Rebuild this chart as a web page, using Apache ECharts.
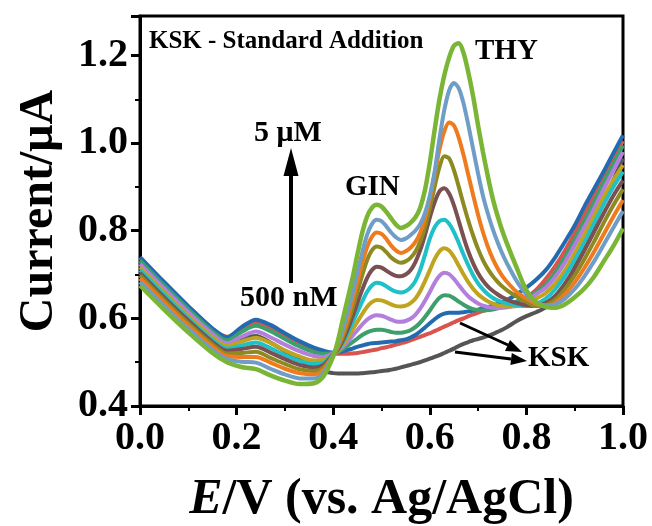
<!DOCTYPE html>
<html><head><meta charset="utf-8">
<script src="https://cdn.jsdelivr.net/npm/echarts@6/dist/echarts.min.js"></script>
<style>html,body{margin:0;padding:0;background:#fff}#c{width:652px;height:526px}</style>
</head><body><div id="c"></div>
<script>
// Potential grid (V vs. Ag/AgCl)
const potential = [0,0.05,0.10,0.15,0.18,0.21,0.24,0.27,0.30,0.33,0.36,0.38,
  0.40,0.41,0.42,0.43,0.44,0.45,0.46,0.47,0.48,0.49,0.50,0.51,0.52,0.53,
  0.54,0.55,0.56,0.57,0.58,0.59,0.60,0.61,0.62,0.63,0.64,0.65,0.66,0.67,0.68,0.69,0.70,0.71,0.72,0.73,0.74,0.75,0.76,
  0.78,0.80,
  0.82,0.84,0.86,0.88,0.90,0.92,0.94,0.96,0.98,1.00];

// Currents (uA)
const ksk = [0.728,0.672,0.617,0.567,0.546,0.555,0.560,0.545,0.525,0.505,0.487,0.479,
  0.475,0.474,0.474,0.474,0.474,0.474,0.475,0.476,0.477,0.478,0.480,0.481,0.483,0.485,
  0.488,0.491,0.494,0.497,0.500,0.504,0.508,0.512,0.516,0.521,0.526,0.531,0.537,0.542,0.546,0.550,0.553,0.556,0.560,0.564,0.569,0.574,0.580,
  0.594,0.605,
  0.614,0.625,0.645,0.675,0.715,0.765,0.815,0.865,0.915,0.965];
const add1 = [0.738,0.681,0.626,0.576,0.558,0.575,0.590,0.578,0.560,0.543,0.530,0.523,
  0.520,0.519,0.519,0.519,0.520,0.521,0.523,0.525,0.527,0.529,0.532,0.534,0.537,0.540,
  0.543,0.546,0.550,0.554,0.558,0.562,0.566,0.571,0.576,0.581,0.586,0.591,0.596,0.600,0.605,0.609,0.613,0.617,0.620,0.623,0.626,0.629,0.632,
  0.638,0.648,
  0.665,0.690,0.720,0.755,0.795,0.838,0.880,0.922,0.963,1.005];
const add2 = [0.740,0.683,0.628,0.577,0.557,0.580,0.597,0.585,0.566,0.548,0.533,0.526,
  0.522,0.523,0.525,0.528,0.531,0.535,0.538,0.541,0.543,0.544,0.545,0.546,0.547,0.548,
  0.550,0.552,0.556,0.562,0.570,0.579,0.589,0.598,0.606,0.611,0.613,0.613,0.613,0.614,0.616,0.618,0.620,0.623,0.626,0.629,0.633,0.637,0.642,
  0.655,0.670,
  0.688,0.710,0.740,0.775,0.812,0.855,0.895,0.935,0.977,1.018];
const add3 = [0.732,0.675,0.621,0.570,0.550,0.569,0.583,0.571,0.553,0.536,0.523,0.519,
  0.521,0.524,0.530,0.538,0.546,0.554,0.562,0.568,0.572,0.574,0.574,0.572,0.569,0.567,
  0.567,0.569,0.573,0.580,0.590,0.603,0.618,0.634,0.647,0.653,0.652,0.646,0.638,0.631,0.625,0.621,0.619,0.618,0.619,0.620,0.623,0.626,0.630,
  0.638,0.648,
  0.660,0.677,0.705,0.740,0.780,0.822,0.865,0.910,0.952,0.995];
const add4 = [0.724,0.668,0.614,0.564,0.543,0.558,0.570,0.557,0.540,0.525,0.514,0.512,
  0.520,0.525,0.535,0.547,0.560,0.573,0.586,0.597,0.604,0.607,0.606,0.602,0.597,0.593,
  0.592,0.594,0.599,0.608,0.622,0.640,0.660,0.681,0.697,0.704,0.701,0.690,0.676,0.662,0.650,0.641,0.634,0.629,0.626,0.624,0.623,0.624,0.625,
  0.630,0.640,
  0.655,0.670,0.695,0.728,0.767,0.808,0.850,0.895,0.937,0.980];
const add5 = [0.717,0.660,0.606,0.557,0.537,0.547,0.556,0.544,0.527,0.513,0.504,0.505,
  0.519,0.526,0.540,0.556,0.574,0.592,0.610,0.626,0.637,0.642,0.641,0.637,0.632,0.628,
  0.627,0.629,0.635,0.645,0.662,0.685,0.710,0.735,0.753,0.760,0.755,0.740,0.720,0.700,0.682,0.667,0.655,0.646,0.639,0.634,0.630,0.628,0.627,
  0.628,0.634,
  0.645,0.658,0.680,0.710,0.748,0.790,0.833,0.877,0.915,0.950];
const add6 = [0.710,0.654,0.600,0.551,0.531,0.538,0.545,0.532,0.516,0.503,0.496,0.499,
  0.519,0.528,0.545,0.566,0.590,0.614,0.638,0.660,0.675,0.681,0.679,0.673,0.666,0.661,
  0.659,0.662,0.670,0.685,0.710,0.745,0.782,0.808,0.822,0.825,0.816,0.797,0.772,0.745,0.720,0.698,0.680,0.666,0.655,0.647,0.641,0.637,0.634,
  0.630,0.628,
  0.633,0.645,0.667,0.697,0.733,0.773,0.817,0.860,0.900,0.935];
const add7 = [0.704,0.648,0.595,0.546,0.526,0.530,0.535,0.522,0.507,0.494,0.488,0.494,
  0.518,0.530,0.550,0.575,0.604,0.635,0.665,0.692,0.710,0.718,0.716,0.709,0.702,0.697,
  0.696,0.700,0.710,0.728,0.755,0.790,0.830,0.865,0.890,0.897,0.885,0.858,0.822,0.785,0.752,0.725,0.703,0.686,0.673,0.663,0.655,0.648,0.643,
  0.635,0.630,
  0.628,0.635,0.652,0.680,0.715,0.755,0.797,0.840,0.880,0.915];
const add8 = [0.698,0.642,0.589,0.541,0.520,0.521,0.524,0.510,0.496,0.484,0.480,0.488,
  0.517,0.533,0.557,0.588,0.622,0.660,0.698,0.732,0.755,0.764,0.761,0.751,0.739,0.731,
  0.727,0.730,0.738,0.752,0.775,0.808,0.852,0.900,0.945,0.970,0.965,0.938,0.900,0.860,0.822,0.788,0.758,0.733,0.713,0.697,0.684,0.673,0.664,
  0.650,0.638,
  0.628,0.630,0.643,0.667,0.698,0.735,0.775,0.818,0.858,0.895];
const add9 = [0.691,0.636,0.583,0.535,0.514,0.512,0.512,0.499,0.485,0.475,0.472,0.483,
  0.517,0.537,0.565,0.600,0.640,0.683,0.725,0.762,0.786,0.796,0.793,0.781,0.766,0.755,
  0.749,0.753,0.761,0.774,0.795,0.828,0.872,0.928,0.985,1.027,1.047,1.040,1.012,0.972,0.926,0.880,0.836,0.797,0.764,0.737,0.715,0.697,0.683,
  0.660,0.645,
  0.633,0.628,0.636,0.655,0.682,0.715,0.752,0.792,0.832,0.870];
const add10 = [0.683,0.628,0.576,0.528,0.507,0.501,0.499,0.485,0.472,0.463,0.463,0.476,
  0.516,0.540,0.575,0.615,0.658,0.705,0.750,0.790,0.815,0.825,0.822,0.810,0.796,0.785,
  0.779,0.782,0.790,0.800,0.815,0.840,0.880,0.935,1.010,1.075,1.120,1.137,1.125,1.090,1.040,0.985,0.930,0.880,0.840,0.805,0.775,0.748,0.725,
  0.685,0.655,
  0.637,0.630,0.632,0.645,0.667,0.696,0.730,0.768,0.807,0.845];
const add11 = [0.675,0.620,0.568,0.521,0.500,0.489,0.484,0.470,0.458,0.450,0.452,0.468,
  0.513,0.550,0.598,0.645,0.692,0.745,0.795,0.832,0.852,0.859,0.855,0.843,0.828,0.814,
  0.806,0.810,0.818,0.830,0.852,0.893,0.955,1.030,1.100,1.155,1.195,1.222,1.228,1.205,1.160,1.105,1.040,0.980,0.925,0.875,0.835,0.800,0.770,
  0.715,0.664,
  0.637,0.626,0.624,0.632,0.648,0.668,0.695,0.730,0.765,0.805];

const curves = [ksk, add1, add2, add3, add4, add5, add6, add7, add8, add9, add10, add11];
const curveNames = ['KSK','Add 1','Add 2','Add 3','Add 4','Add 5','Add 6','Add 7','Add 8','Add 9','Add 10','Add 11'];
const curveColors = ['#555555','#d9544f','#236bb0','#3d9f6b','#b27fdd','#c0a41e','#20c0c8','#7a5052','#8c8a20','#ee7b1d','#6e9dc8','#7bb535'];

const xTicks = [0.0,0.2,0.4,0.6,0.8,1.0];
const yTicks = [0.4,0.6,0.8,1.0,1.2];

const FONT = "'Liberation Serif','Times New Roman',serif";

const chart = echarts.init(document.getElementById('c'), null, {renderer:'canvas'});

const series = curves.map((vals, k) => ({
  name: curveNames[k],
  type: 'line',
  data: potential.map((e, i) => [e, vals[i]]),
  showSymbol: false,
  smooth: 0.3,
  lineStyle: {color: curveColors[k], width: k === 11 ? 4.5 : 4},
  itemStyle: {color: curveColors[k]},
  z: 2 + k,
  silent: true
}));

const labelStyle = {color:'#000', fontFamily: FONT, fontWeight:'bold', fontSize: 40};

chart.setOption({
  animation: false,
  backgroundColor: '#fff',
  grid: {left: 140, right: 29, top: 16, bottom: 120, show: true, borderColor: '#000', borderWidth: 3,
         containLabel: false, outerBoundsMode: 'none'},
  xAxis: {
    type: 'value', min: 0, max: 1.0, interval: 0.2,
    axisLine: {show: true, lineStyle: {color:'#000', width: 3}},
    axisTick: {show: true, inside: false, length: 9, lineStyle: {color:'#000', width: 3}},
    minorTick: {show: true, splitNumber: 2, length: 5, lineStyle: {color:'#000', width: 2}},
    splitLine: {show: false},
    axisLabel: Object.assign({margin: 13, formatter: v => {
      const t = xTicks.find(x => Math.abs(x - v) < 1e-6);
      return t === undefined ? '' : t.toFixed(1);
    }}, labelStyle),
    name: '{i|E}/V (vs. Ag/AgCl)',
    nameLocation: 'middle', nameGap: 69,
    nameTextStyle: {color:'#000', fontFamily: FONT, fontWeight:'bold', fontSize: 50,
      rich: {i: {fontStyle:'italic', fontWeight:'bold', fontFamily: FONT, fontSize: 50, color:'#000'}}}
  },
  yAxis: {
    type: 'value', min: 0.4, max: 1.29, interval: 0.2,
    axisLine: {show: true, lineStyle: {color:'#000', width: 3}},
    axisTick: {show: true, inside: false, length: 9, lineStyle: {color:'#000', width: 3}},
    minorTick: {show: true, splitNumber: 2, length: 5, lineStyle: {color:'#000', width: 2}},
    splitLine: {show: false},
    axisLabel: Object.assign({margin: 12, formatter: v => {
      const t = yTicks.find(y => Math.abs(y - v) < 1e-6);
      return t === undefined ? '' : t.toFixed(1);
    }}, labelStyle),
    name: 'Current/μA',
    nameLocation: 'middle', nameGap: 76,
    nameTextStyle: {color:'#000', fontFamily: FONT, fontWeight:'bold', fontSize: 48}
  },
  series: series,
  graphic: [
    {type:'text', left: 149, top: 29, z: 50, style:{text:'KSK - Standard Addition', font:`bold 25px ${FONT}`, fill:'#000'}},
    {type:'text', left: 475, top: 37, z: 50, style:{text:'THY', font:`bold 29px ${FONT}`, fill:'#000'}},
    {type:'text', left: 254, top: 118, z: 50, style:{text:'5 μM', font:`bold 30px ${FONT}`, fill:'#000'}},
    {type:'text', left: 345, top: 173, z: 50, style:{text:'GIN', font:`bold 29px ${FONT}`, fill:'#000'}},
    {type:'text', left: 240, top: 283, z: 50, style:{text:'500 nM', font:`bold 30px ${FONT}`, fill:'#000'}},
    {type:'text', left: 528, top: 344, z: 50, style:{text:'KSK', font:`bold 29px ${FONT}`, fill:'#000'}},
    {type:'line', z: 50, shape:{x1:291, y1:283, x2:291, y2:172}, style:{stroke:'#000', lineWidth:4}},
    {type:'polygon', z: 50, shape:{points:[[291,148],[283.5,176],[298.5,176]]}, style:{fill:'#000'}},
    {type:'line', z: 50, shape:{x1:460, y1:323, x2:508, y2:345}, style:{stroke:'#000', lineWidth:3}},
    {type:'polygon', z: 50, shape:{points:[[522,352],[505,351],[510,340]]}, style:{fill:'#000'}},
    {type:'line', z: 50, shape:{x1:455, y1:352, x2:511, y2:359}, style:{stroke:'#000', lineWidth:3}},
    {type:'polygon', z: 50, shape:{points:[[527,361],[510.4,365],[511.8,353]]}, style:{fill:'#000'}}
  ]
});
</script>
</body></html>
